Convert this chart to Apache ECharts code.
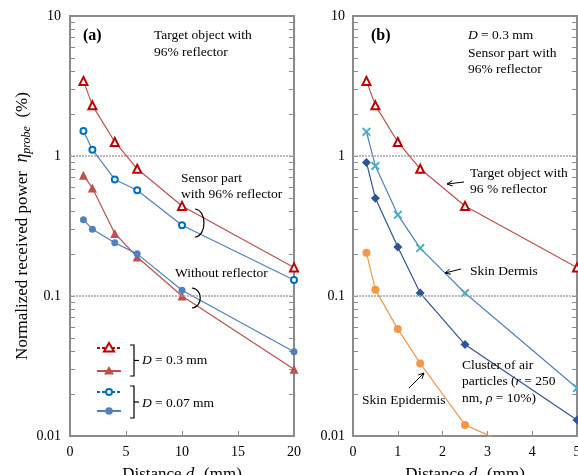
<!DOCTYPE html>
<html>
<head>
<meta charset="utf-8">
<script src="https://cdn.jsdelivr.net/npm/echarts@6/dist/echarts.min.js"></script>
<style>
  html, body { margin: 0; padding: 0; background: #fff; }
  #chart { width: 578px; height: 475px; }
</style>
</head>
<body>
<div id="chart"></div>
<script>
// panel (a): distance d2 (mm)
const distA = [1.2, 2, 4, 6, 10, 20];
const reflector03 = [3.44, 2.3, 1.26, 0.81, 0.44, 0.16];
const reflector007 = [1.51, 1.11, 0.68, 0.57, 0.32, 0.13];
const noReflector03 = [0.73, 0.59, 0.28, 0.19, 0.10, 0.030];
const noReflector007 = [0.35, 0.30, 0.24, 0.20, 0.11, 0.040];

// panel (b): distance d2 (mm)
const distB = [0.3, 0.5, 1, 1.5, 2.5, 5];
const targetB = [3.44, 2.3, 1.26, 0.81, 0.44, 0.16];
const dermis = [1.49, 0.85, 0.38, 0.22, 0.105, 0.022];
const airCluster = [0.90, 0.50, 0.224, 0.105, 0.045, 0.013];
const epidermis = [0.204, 0.111, 0.058, 0.033, 0.012, 0.0053];

const yLabels = [0.01, 0.1, 1, 10];

const FONT = 'Liberation Serif';
const RED = '#c0504d', DRED = '#c00000';
const BLUE = '#4f81bd', DBLUE = '#0070c0';
const TEAL = '#4bacc6', NAVY = '#2f5597', ORANGE = '#f79646';
const FRAME = '#8c8c8c';

const logTicks = [];
[0.01, 0.1, 1].forEach(d => { for (let k = 1; k <= 9; k++) logTicks.push(+(k * d).toFixed(3)); });
logTicks.push(10);

const pairs = (xs, ys) => xs.map((x, i) => [x, ys[i]]);
const crossPath = 'path://M0,1.5 L1.5,0 L5,3.5 L8.5,0 L10,1.5 L6.5,5 L10,8.5 L8.5,10 L5,6.5 L1.5,10 L0,8.5 L3.5,5 Z';

function line(name, xi, xs, ys, o) {
  return {
    name: name, type: 'line', xAxisIndex: xi, yAxisIndex: xi * 2,
    data: pairs(xs, ys), symbol: o.symbol, symbolSize: o.size,
    itemStyle: o.item, lineStyle: { color: o.line, width: 1.2 },
    animation: false, silent: true, z: o.z || 3
  };
}

function xAxis(gi, max, interval) {
  return {
    type: 'value', gridIndex: gi, min: 0, max: max, interval: interval,
    axisLine: { show: true, lineStyle: { color: FRAME, width: 2 } },
    axisTick: { show: true, inside: true, length: 5, lineStyle: { color: FRAME } },
    axisLabel: { color: '#000', fontFamily: FONT, fontSize: 14, margin: 9 },
    splitLine: { show: false },
    name: '{n|Distance }{i|d}{s|2}{n| (mm)}', nameLocation: 'middle', nameGap: 29,
    nameTextStyle: {
      rich: {
        n: { fontFamily: FONT, fontSize: 17, color: '#000' },
        i: { fontFamily: FONT, fontSize: 17, fontStyle: 'italic', color: '#000' },
        s: { fontFamily: FONT, fontSize: 11, color: '#000', padding: [9, 0, 0, 0] }
      }
    }
  };
}

function yAxis(gi, pos, labels, margin) {
  return {
    type: 'log', logBase: 10, gridIndex: gi, min: 0.01, max: 10, position: pos,
    axisLine: { show: true, lineStyle: { color: FRAME, width: 2 } },
    axisTick: { show: true, inside: true, length: 5, customValues: logTicks, lineStyle: { color: FRAME } },
    axisLabel: {
      show: labels, customValues: yLabels, color: '#000', fontFamily: FONT, fontSize: 14, margin: margin,
      formatter: v => String(+(+v).toPrecision(2))
    },
    splitLine: { show: false }
  };
}

const yA = yAxis(0, 'left', true, 9);
yA.name = '{n|Normalized received power  }{e|η}{s|probe}{n|  (%)}';
yA.nameLocation = 'middle';
yA.nameGap = 37;
yA.nameTextStyle = {
  rich: {
    n: { fontFamily: FONT, fontSize: 17, color: '#000' },
    e: { fontFamily: FONT, fontSize: 18, fontStyle: 'italic', color: '#000' },
    s: { fontFamily: FONT, fontSize: 12, fontStyle: 'italic', color: '#000', padding: [9, 0, 0, 0] }
  }
};

const dotted = {
  silent: true, symbol: 'none', animation: false,
  label: { show: false },
  lineStyle: { color: '#a6a6a6', type: [2, 1], width: 1.5 },
  data: [{ yAxis: 1 }, { yAxis: 0.1 }]
};

// annotation helpers
function txt(x, y, text, extra) {
  return {
    type: 'text', x: x, y: y, silent: true, z: 10,
    style: Object.assign({
      text: text, fontFamily: FONT, fontSize: 13.5, fill: '#000',
      align: 'left', verticalAlign: 'middle'
    }, extra || {})
  };
}
const richStyle = {
  n: { fontFamily: FONT, fontSize: 13.5, fill: '#000' },
  i: { fontFamily: FONT, fontSize: 13.5, fontStyle: 'italic', fill: '#000' }
};
function arrow(x1, y1, x2, y2) {
  const a = Math.atan2(y2 - y1, x2 - x1), h = 6, w = 0.45;
  return [
    { type: 'line', silent: true, z: 10, shape: { x1: x1, y1: y1, x2: x2, y2: y2 }, style: { stroke: '#000', lineWidth: 1 } },
    { type: 'polyline', silent: true, z: 10, shape: { points: [
      [x2 - h * Math.cos(a - w), y2 - h * Math.sin(a - w)], [x2, y2],
      [x2 - h * Math.cos(a + w), y2 - h * Math.sin(a + w)]] },
      style: { stroke: '#000', fill: null, lineWidth: 1 } }
  ];
}
function paren(cx, top, bottom, w) {
  return {
    type: 'bezierCurve', silent: true, z: 10,
    shape: { x1: cx - 3, y1: top, cpx1: cx + w, cpy1: top + 1, cpx2: cx + w, cpy2: bottom - 1, x2: cx - 3, y2: bottom },
    style: { stroke: '#000', fill: null, lineWidth: 1.2 }
  };
}
function bracket(x, top, bottom) {
  const mid = (top + bottom) / 2;
  return [
    { type: 'polyline', silent: true, z: 10, shape: { points: [[x - 4, top], [x, top], [x, bottom], [x - 4, bottom]] },
      style: { stroke: '#000', fill: null, lineWidth: 1.2 } },
    { type: 'line', silent: true, z: 10, shape: { x1: x, y1: mid, x2: x + 5, y2: mid }, style: { stroke: '#000', lineWidth: 1.2 } }
  ];
}
function legendRow(y, color, dashed, shape, open) {
  const cx = 109;
  const els = [{ type: 'line', silent: true, z: 10, shape: { x1: 97, y1: y, x2: 121, y2: y },
    style: { stroke: color, lineWidth: 2, lineDash: dashed ? [3, 2] : null } }];
  const st = open ? { fill: '#fff', stroke: color, lineWidth: 2 } : { fill: color };
  if (shape === 'tri') {
    els.push({ type: 'polygon', silent: true, z: 11, shape: { points: [[cx, y - 5], [cx + 5, y + 3.5], [cx - 5, y + 3.5]] }, style: st });
  } else {
    els.push({ type: 'circle', silent: true, z: 11, shape: { cx: cx, cy: y, r: open ? 3 : 3.8 }, style: st });
  }
  return els;
}

const graphics = [
  txt(83, 36, '(a)', { fontWeight: 'bold', fontSize: 16 }),
  txt(154, 35, 'Target object with'),
  txt(154, 52, '96% reflector'),
  txt(181, 178, 'Sensor part'),
  txt(181, 194, 'with 96% reflector'),
  txt(175, 273, 'Without reflector'),
  paren(198, 209, 237, 9),
  paren(195, 288, 308, 8),
  ...bracket(134, 345, 376),
  ...bracket(134, 386, 418),
  txt(142, 360, '{i|D}{n| = 0.3 mm}', { rich: richStyle }),
  txt(142, 403, '{i|D}{n| = 0.07 mm}', { rich: richStyle }),
  ...legendRow(348, DRED, true, 'tri', true),
  ...legendRow(371, RED, false, 'tri', false),
  ...legendRow(392, DBLUE, true, 'circ', true),
  ...legendRow(411, BLUE, false, 'circ', false),

  txt(371, 36, '(b)', { fontWeight: 'bold', fontSize: 16 }),
  txt(468, 35, '{i|D}{n| = 0.3 mm}', { rich: richStyle }),
  txt(468, 53, 'Sensor part with'),
  txt(468, 69, '96% reflector'),
  txt(470, 173, 'Target object with'),
  txt(470, 189, '96 % reflector'),
  ...arrow(464, 182, 447, 184),
  txt(470, 271, 'Skin Dermis'),
  ...arrow(461, 269, 445, 273),
  txt(462, 365, 'Cluster of air'),
  txt(462, 381, '{n|particles (}{i|r}{n| = 250}', { rich: richStyle }),
  txt(462, 398, '{n|nm, }{i|ρ}{n| = 10%)}', { rich: richStyle }),
  txt(362, 400, 'Skin Epidermis'),
  ...arrow(409, 388, 424, 373)
];

const chart = echarts.init(document.getElementById('chart'), null, { renderer: 'canvas' });
chart.setOption({
  backgroundColor: '#fff',
  animation: false,
  grid: [
    { left: 70, top: 16, width: 224, height: 420, show: true, borderColor: FRAME, borderWidth: 2,
      backgroundColor: 'transparent', containLabel: false, outerBoundsMode: 'none' },
    { left: 353, top: 16, width: 224, height: 420, show: true, borderColor: FRAME, borderWidth: 2,
      backgroundColor: 'transparent', containLabel: false, outerBoundsMode: 'none' }
  ],
  xAxis: [xAxis(0, 20, 5), xAxis(1, 5, 1)],
  yAxis: [
    yA,
    yAxis(0, 'right', false, 8),
    yAxis(1, 'left', true, 8),
    yAxis(1, 'right', false, 8)
  ],
  series: [
    Object.assign(line('reflector03', 0, distA, reflector03, {
      symbol: 'triangle', size: 8, line: RED, z: 5,
      item: { color: '#fff', borderColor: DRED, borderWidth: 2 }
    }), { markLine: dotted }),
    line('reflector007', 0, distA, reflector007, {
      symbol: 'circle', size: 6, line: BLUE, z: 5,
      item: { color: '#fff', borderColor: DBLUE, borderWidth: 2 }
    }),
    line('noReflector03', 0, distA, noReflector03, {
      symbol: 'triangle', size: 9, line: RED, item: { color: RED }
    }),
    line('noReflector007', 0, distA, noReflector007, {
      symbol: 'circle', size: 7, line: BLUE, item: { color: BLUE }
    }),
    Object.assign(line('targetB', 1, distB, targetB, {
      symbol: 'triangle', size: 8, line: RED, z: 5,
      item: { color: '#fff', borderColor: DRED, borderWidth: 2 }
    }), { markLine: dotted }),
    line('dermis', 1, distB, dermis, {
      symbol: crossPath, size: 9, line: BLUE, item: { color: TEAL }
    }),
    line('airCluster', 1, distB, airCluster, {
      symbol: 'diamond', size: 9, line: NAVY, item: { color: NAVY }
    }),
    line('epidermis', 1, distB, epidermis, {
      symbol: 'circle', size: 8, line: ORANGE, item: { color: ORANGE }
    })
  ],
  graphic: graphics
});
</script>
</body>
</html>
